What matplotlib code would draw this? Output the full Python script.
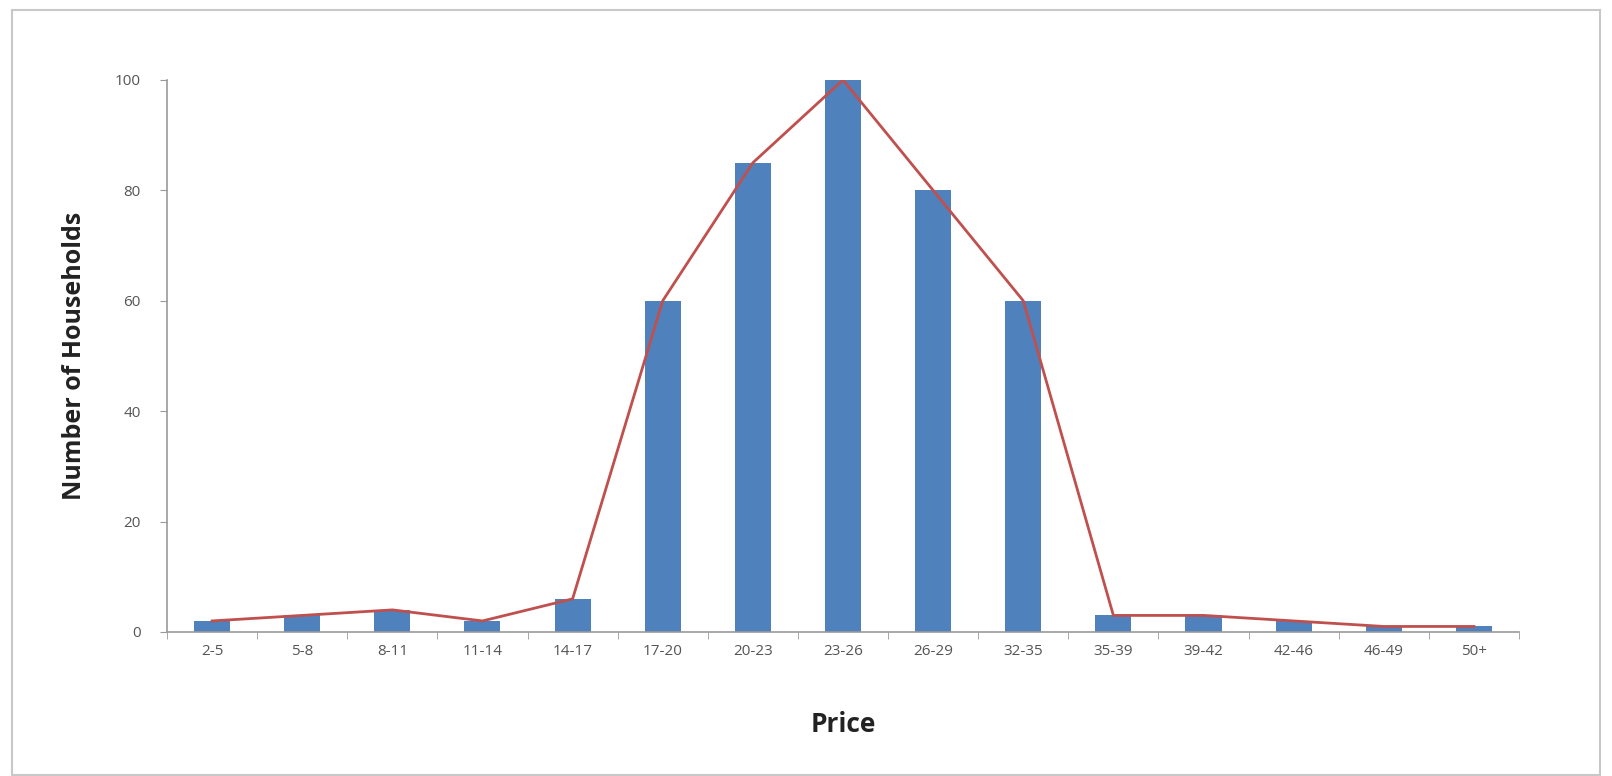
import matplotlib.pyplot as plt
from matplotlib.patches import Rectangle
import numpy as np

price_bins = ["2-5", "5-8", "8-11", "11-14", "14-17", "17-20", "20-23", "23-26",
              "26-29", "32-35", "35-39", "39-42", "42-46", "46-49", "50+"]
households = [2, 3, 4, 2, 6, 60, 85, 100, 80, 60, 3, 3, 2, 1, 1]

if __name__ == "__main__":
    plt.rcParams['font.family'] = ['Open Sans', 'DejaVu Sans']

    fig = plt.figure(figsize=(16.12, 7.76), dpi=100)
    ax = fig.add_axes([0.1036, 0.1856, 0.8387, 0.7114])

    x = np.arange(len(price_bins))
    ax.bar(x, households, width=0.4, color='#4F81BD', zorder=2)
    ax.plot(x, households, color='#C0504D', linewidth=2, zorder=3)

    ax.set_xlim(-0.5, len(price_bins) - 0.5)
    ax.set_ylim(0, 100)
    ax.set_yticks(np.arange(0, 101, 20))

    # category labels sit between the boundary ticks
    ax.set_xticks(x)
    ax.set_xticklabels(price_bins)
    ax.set_xticks(np.arange(-0.5, len(price_bins), 1), minor=True)
    ax.tick_params(axis='x', which='major', length=0, pad=9,
                   labelsize=11, labelcolor='#555555')
    ax.tick_params(axis='x', which='minor', length=5, color='#999999',
                   direction='out')
    ax.tick_params(axis='y', length=5, color='#999999', pad=14,
                   labelsize=11, labelcolor='#555555')

    for side in ['top', 'right']:
        ax.spines[side].set_visible(False)
    for side in ['left', 'bottom']:
        ax.spines[side].set_color('#999999')
        ax.spines[side].set_linewidth(1.2)

    ax.set_xlabel("Price", fontsize=19, fontweight='bold', color='#222222',
                  labelpad=37)
    ax.set_ylabel("Number of Households", fontsize=18, fontweight='bold',
                  color='#222222', labelpad=20)

    fig.patches.append(Rectangle((0.0074, 0.001), 0.985, 0.986,
                                 transform=fig.transFigure, fill=False,
                                 edgecolor='#C8C8C8', linewidth=1.5))

    fig.savefig("out.png", dpi=100)
